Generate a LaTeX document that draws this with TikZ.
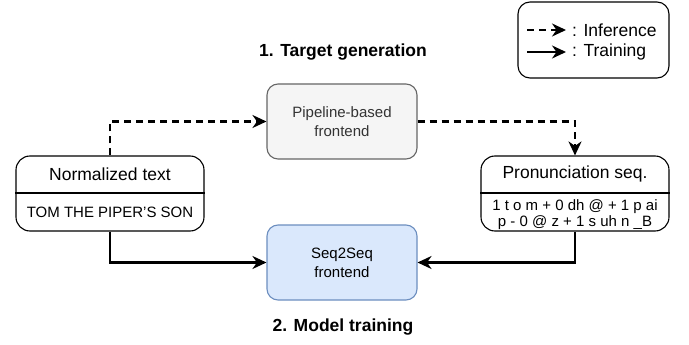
\documentclass[tikz,border=0pt]{standalone}
\usepackage{fontspec}
\setmainfont{Liberation Sans}
\usetikzlibrary{arrows.meta}

\definecolor{pipefill}{HTML}{F5F5F5}
\definecolor{pipeline}{HTML}{666666}
\definecolor{pipetext}{HTML}{333333}
\definecolor{seqfill}{HTML}{DAE8FC}
\definecolor{seqline}{HTML}{6C8EBF}

\begin{document}
\begin{tikzpicture}[x=1pt,y=-1pt,
  bigfont/.style={font=\fontsize{17.5}{21}\selectfont},
  smallfont/.style={font=\fontsize{15}{18}\selectfont},
  frontend/.style={draw, rounded corners=11pt, minimum width=150pt, minimum height=75pt,
    line width=1.1pt, inner sep=0pt, align=center, smallfont},
  databox/.style={draw, rounded corners=14pt, minimum width=188pt, minimum height=75pt,
    line width=1.1pt, inner sep=0pt},
  tip/.style={-{Stealth[length=14pt,width=13pt,inset=4.5pt]}},
  infer/.style={tip, line width=2.2pt, dash pattern=on 7pt off 5pt},
  train/.style={tip, line width=2.2pt},
  heading/.style={font=\fontsize{17.5}{21}\selectfont\bfseries},
]
\useasboundingbox (0,0) rectangle (689,345);

% legend
\node[draw, rounded corners=12pt, line width=1.1pt, minimum width=151pt, minimum height=76pt]
  (legend) at (593.5,40) {};
\coordinate (inA) at (527,30);
\coordinate (inB) at (566,30);
\coordinate (trA) at (527,52);
\coordinate (trB) at (566,52);
\draw[infer] (inA) -- (inB);
\draw[train] (trA) -- (trB);
\node[bigfont, anchor=west, inner sep=0pt] (linf) at (572,30) {: Inference};
\node[bigfont, anchor=west, inner sep=0pt] (ltrn) at (572,52) {: Training};

% stage headings
\node[heading] (h1) at (343,52) {1. Target generation};
\node[heading] (h2) at (343,327) {2. Model training};

% frontends
\node[frontend, fill=pipefill, draw=pipeline, text=pipetext] (pipe) at (342,121.5)
  {Pipeline-based\\[1pt]frontend};
\node[frontend, fill=seqfill, draw=seqline] (seq) at (342,262.5)
  {Seq2Seq\\[1pt]frontend};

% input text box
\node[databox] (norm) at (110,193.5) {};
\draw[line width=1.1pt] (norm.west |- 0,193) -- (norm.east |- 0,193);
\node[bigfont] (normh) at (110,174) {Normalized text};
\node[smallfont] (normb) at (110,212) {TOM THE PIPER\char"0027 S SON};

% pronunciation box
\node[databox] (pron) at (575,193.5) {};
\draw[line width=1.1pt] (pron.west |- 0,193) -- (pron.east |- 0,193);
\node[bigfont] (pronh) at (575,174) {Pronunciation seq.};
\node[smallfont, align=center] (pronb) at (575,215)
  {1 t o m + 0 dh @ + 1 p ai\\[-2pt]p - 0 @ z + 1 s uh n \_B};

% inference path
\draw[infer] (norm.north) |- (pipe.west);
\draw[infer] (pipe.east) -| (pron.north);

% training path
\draw[train] (norm.south) |- (seq.west);
\draw[train] (pron.south) |- (seq.east);
\end{tikzpicture}
\end{document}
